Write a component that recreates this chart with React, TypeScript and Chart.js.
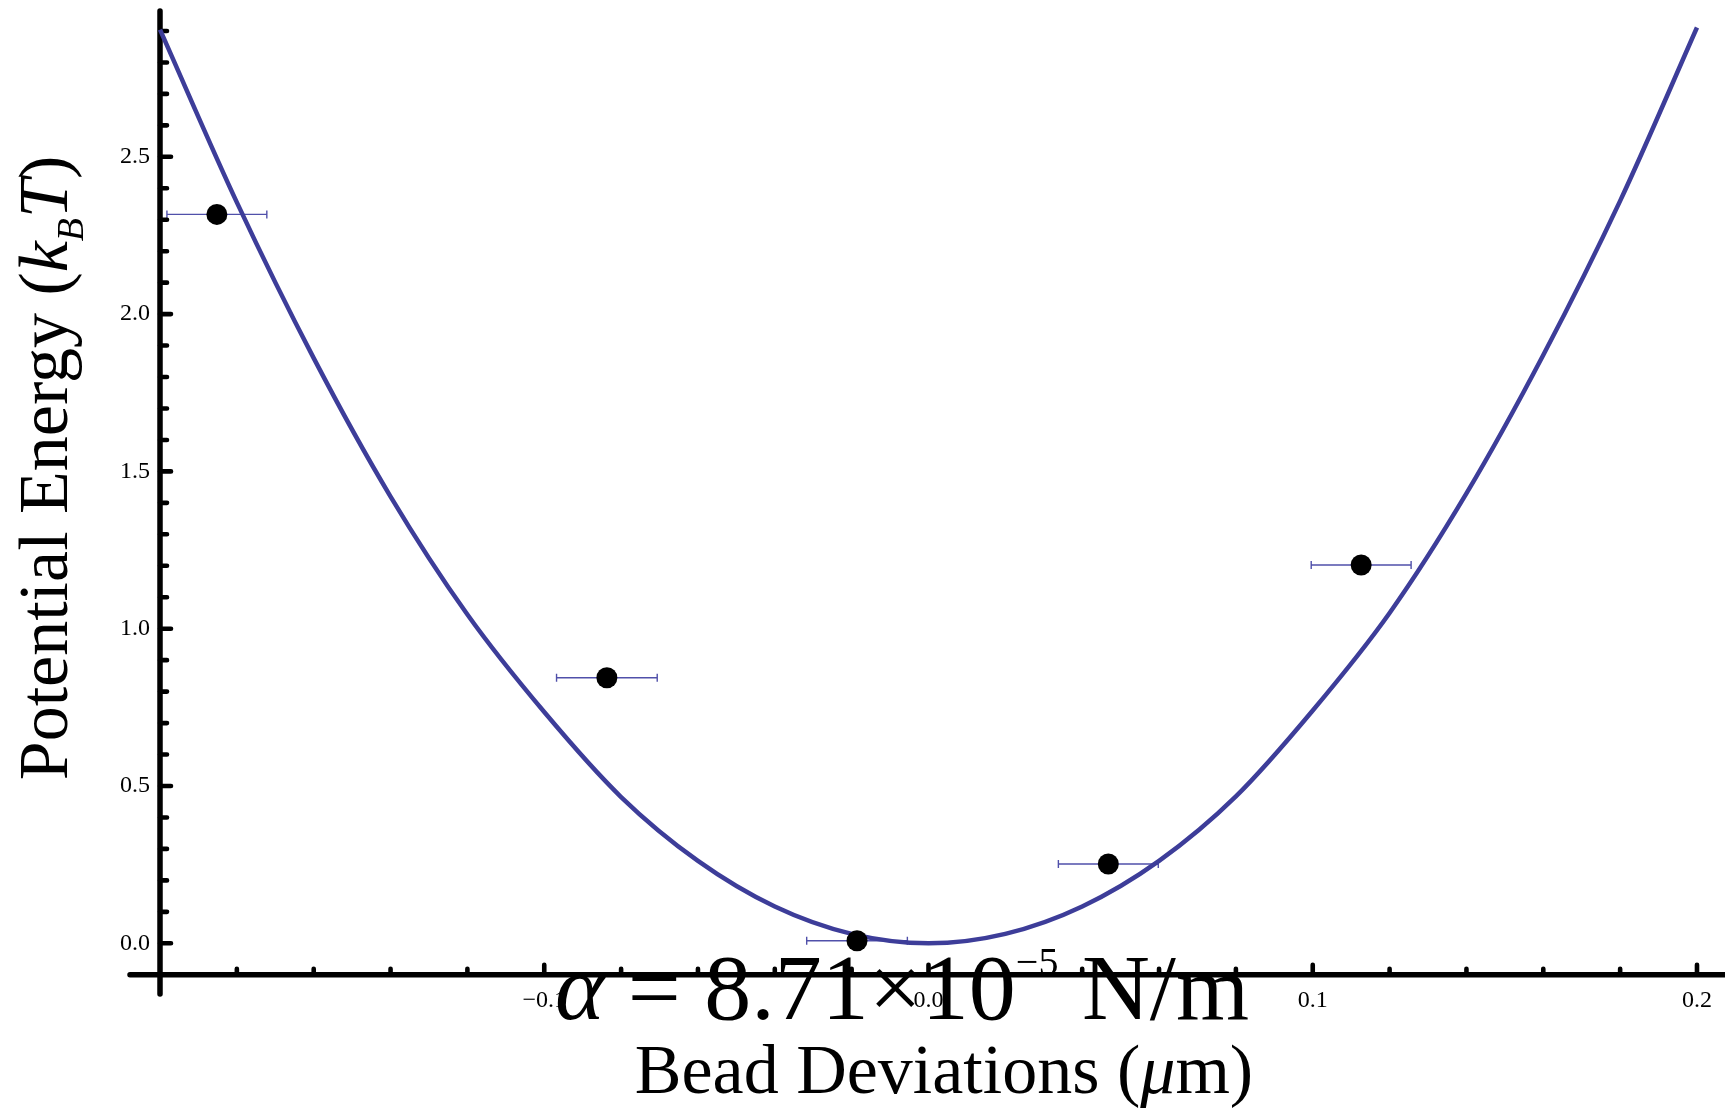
import React, { useEffect, useRef } from 'react';
import { Chart, registerables } from 'chart.js';

Chart.register(...registerables);

// Fitted potential curve
const curveX = [-0.2, -0.18, -0.16, -0.14, -0.12, -0.1, -0.08, -0.06, -0.04, -0.02, 0, 0.02, 0.04, 0.06, 0.08, 0.1, 0.12, 0.14, 0.16, 0.18, 0.2];
const curveY = [2.904, 2.355, 1.86, 1.42, 1.045, 0.735, 0.465, 0.262, 0.117, 0.03, 0.0, 0.03, 0.117, 0.262, 0.467, 0.74, 1.05, 1.43, 1.87, 2.36, 2.911];

// Measured points with horizontal error bars
const pointX = [-0.1852, -0.0837, -0.0186, 0.0468, 0.1126];
const pointY = [2.317, 0.844, 0.008, 0.252, 1.2025];
const pointXErr = [0.013, 0.0131, 0.0131, 0.013, 0.013];

// Axes ticks
const xMajorTicks = [-0.1, 0, 0.1, 0.2];
const xTickLabels = ['\u22120.1', '0.0', '0.1', '0.2'];
const xMinorTicks = [-0.18, -0.16, -0.14, -0.12, -0.08, -0.06, -0.04, -0.02, 0.02, 0.04, 0.06, 0.08, 0.12, 0.14, 0.16, 0.18];
const yMajorTicks = [0, 0.5, 1, 1.5, 2, 2.5];
const yTickLabels = ['0.0', '0.5', '1.0', '1.5', '2.0', '2.5'];
const yMinorTicks = [0.1, 0.2, 0.3, 0.4, 0.6, 0.7, 0.8, 0.9, 1.1, 1.2, 1.3, 1.4, 1.6, 1.7, 1.8, 1.9, 2.1, 2.2, 2.3, 2.4, 2.6, 2.7, 2.8, 2.9];
const axisCrossX = -0.2;
const axisCrossY = -0.1;

// Texts
const xTitleParts = [
  { text: 'Bead Deviations (', italic: false },
  { text: '\u03bc', italic: true },
  { text: 'm)', italic: false },
];
const yTitleParts = [
  { text: 'Potential Energy (', italic: false, sub: false },
  { text: 'k', italic: true, sub: false },
  { text: 'B', italic: true, sub: true },
  { text: 'T', italic: true, sub: false },
  { text: ')', italic: false, sub: false },
];
const alphaParts = [
  { text: '\u03b1', italic: true, sup: false },
  { text: ' = 8.71\u00d710', italic: false, sup: false },
  { text: '\u22125', italic: false, sup: true },
  { text: ' N/m', italic: false, sup: false },
];

const SERIF = '"Liberation Serif", "Times New Roman", serif';
const W = 1725;
const H = 1111;

type Seg = { text: string; font: string; dy: number };

function drawRich(ctx: CanvasRenderingContext2D, segs: Seg[], cx: number, baseline: number) {
  let total = 0;
  const widths = segs.map((s) => {
    ctx.font = s.font;
    const w = ctx.measureText(s.text).width;
    total += w;
    return w;
  });
  let x = cx - total / 2;
  ctx.textAlign = 'left';
  ctx.textBaseline = 'alphabetic';
  segs.forEach((s, i) => {
    ctx.font = s.font;
    ctx.fillText(s.text, x, baseline + s.dy);
    x += widths[i];
  });
}

const overlayPlugin = {
  id: 'mathematicaAxes',
  beforeDatasetsDraw(chart: any) {
    const ctx: CanvasRenderingContext2D = chart.ctx;
    const xs = chart.scales.x;
    const ys = chart.scales.y;
    const area = chart.chartArea;
    const ax = xs.getPixelForValue(axisCrossX);
    const ay = ys.getPixelForValue(axisCrossY);
    ctx.save();
    // error bars
    ctx.strokeStyle = 'rgb(80,80,170)';
    ctx.lineWidth = 1.4;
    ctx.lineCap = 'butt';
    pointX.forEach((px, i) => {
      const y = ys.getPixelForValue(pointY[i]);
      const x1 = xs.getPixelForValue(px - pointXErr[i]);
      const x2 = xs.getPixelForValue(px + pointXErr[i]);
      ctx.beginPath();
      ctx.moveTo(x1, y);
      ctx.lineTo(x2, y);
      ctx.moveTo(x1, y - 4);
      ctx.lineTo(x1, y + 4);
      ctx.moveTo(x2, y - 4);
      ctx.lineTo(x2, y + 4);
      ctx.stroke();
    });
    // axes
    ctx.strokeStyle = '#000';
    ctx.lineWidth = 5.5;
    ctx.lineCap = 'round';
    ctx.beginPath();
    ctx.moveTo(area.left + 3, ay);
    ctx.lineTo(area.right + 5, ay);
    ctx.moveTo(ax, area.bottom - 3);
    ctx.lineTo(ax, area.top + 3);
    ctx.stroke();
    // ticks
    ctx.lineWidth = 4.6;
    ctx.beginPath();
    yMajorTicks.forEach((v) => {
      const y = ys.getPixelForValue(v);
      ctx.moveTo(ax, y);
      ctx.lineTo(ax + 11, y);
    });
    yMinorTicks.forEach((v) => {
      const y = ys.getPixelForValue(v);
      ctx.moveTo(ax, y);
      ctx.lineTo(ax + 7, y);
    });
    xMajorTicks.forEach((v) => {
      const x = xs.getPixelForValue(v);
      ctx.moveTo(x, ay);
      ctx.lineTo(x, ay - 10);
    });
    xMinorTicks.forEach((v) => {
      const x = xs.getPixelForValue(v);
      ctx.moveTo(x, ay);
      ctx.lineTo(x, ay - 6);
    });
    ctx.stroke();
    ctx.restore();
  },
  afterDraw(chart: any) {
    const ctx: CanvasRenderingContext2D = chart.ctx;
    const xs = chart.scales.x;
    const ys = chart.scales.y;
    const ax = xs.getPixelForValue(axisCrossX);
    const ay = ys.getPixelForValue(axisCrossY);
    ctx.save();
    ctx.fillStyle = '#000';
    // tick labels
    ctx.font = '24px ' + SERIF;
    ctx.textAlign = 'right';
    ctx.textBaseline = 'middle';
    yMajorTicks.forEach((v, i) => {
      ctx.fillText(yTickLabels[i], ax - 10, ys.getPixelForValue(v));
    });
    ctx.textAlign = 'center';
    ctx.textBaseline = 'top';
    xMajorTicks.forEach((v, i) => {
      ctx.fillText(xTickLabels[i], xs.getPixelForValue(v), ay + 14);
    });
    // x title
    drawRich(
      ctx,
      xTitleParts.map((p) => ({ text: p.text, font: (p.italic ? 'italic ' : '') + '70px ' + SERIF, dy: 0 })),
      944,
      1093
    );
    // y title (rotated)
    ctx.save();
    ctx.translate(67, 468);
    ctx.rotate(-Math.PI / 2);
    drawRich(
      ctx,
      yTitleParts.map((p) => ({
        text: p.text,
        font: (p.italic ? 'italic ' : '') + (p.sub ? '38px ' : '70px ') + SERIF,
        dy: p.sub ? 16 : 0,
      })),
      0,
      0
    );
    ctx.restore();
    // alpha annotation
    drawRich(
      ctx,
      alphaParts.map((p) => ({
        text: p.text,
        font: (p.italic ? 'italic ' : '') + (p.sup ? '40px ' : '94px ') + SERIF,
        dy: p.sup ? -44 : 0,
      })),
      902,
      1019
    );
    ctx.restore();
  },
};

export default function App() {
  const canvasRef = useRef<HTMLCanvasElement | null>(null);

  useEffect(() => {
    document.body.style.margin = '0';
    const canvas = canvasRef.current;
    if (!canvas) return;
    const chart = new Chart(canvas, {
      type: 'scatter',
      data: {
        datasets: [
          {
            label: 'Data',
            data: pointX.map((x, i) => ({ x, y: pointY[i] })),
            pointRadius: 10.5,
            pointHoverRadius: 10.5,
            pointBackgroundColor: '#000',
            pointBorderColor: '#000',
            pointBorderWidth: 0,
            showLine: false,
            order: 0,
          },
          {
            label: 'Fit',
            data: curveX.map((x, i) => ({ x, y: curveY[i] })),
            showLine: true,
            borderColor: 'rgb(61,61,153)',
            borderWidth: 4.5,
            pointRadius: 0,
            cubicInterpolationMode: 'monotone',
            order: 1,
          },
        ],
      },
      options: {
        animation: false,
        responsive: false,
        maintainAspectRatio: false,
        devicePixelRatio: 1,
        layout: { autoPadding: false, padding: { left: 127, right: 0, top: 8, bottom: 114 } },
        plugins: { legend: { display: false }, tooltip: { enabled: false } },
        events: [],
        scales: {
          x: { type: 'linear', min: -0.20859, max: 0.20729, display: false },
          y: { type: 'linear', min: -0.1707, max: 2.973, display: false },
        },
      },
      plugins: [overlayPlugin],
    });
    return () => chart.destroy();
  }, []);

  return (
    <div style={{ position: 'fixed', left: 0, top: 0, width: W, height: H, background: '#fff' }}>
      <canvas ref={canvasRef} width={W} height={H} style={{ display: 'block', width: W, height: H }} />
    </div>
  );
}
